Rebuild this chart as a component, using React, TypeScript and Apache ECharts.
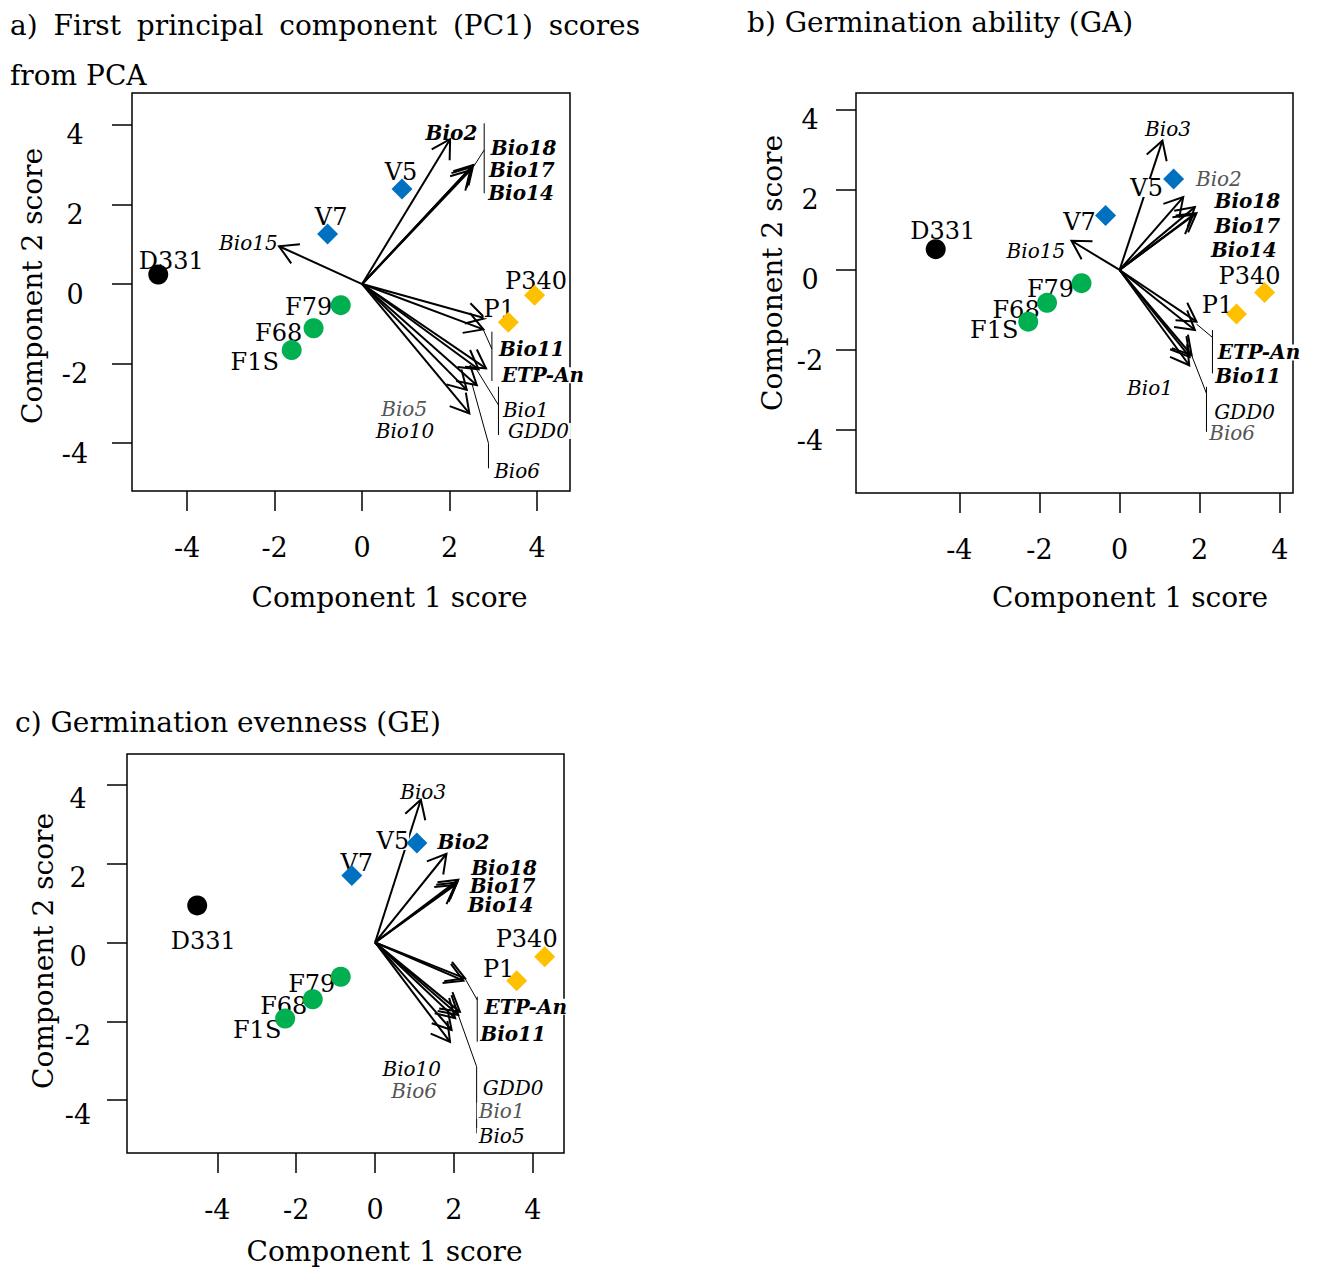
import React, { useEffect, useRef } from 'react';
import * as echarts from 'echarts';

const FONT = '"DejaVu Serif", "Liberation Serif", serif';

// ---- shared ----
const genotypes = ['D331', 'V7', 'V5', 'F79', 'F68', 'F1S', 'P340', 'P1'];
const genotypeGroup = ['D', 'V', 'V', 'F', 'F', 'F', 'P', 'P'];
const groupColor: Record<string, string> = { D: '#000000', V: '#0070C0', F: '#00B050', P: '#FFC000' };
const groupSymbol: Record<string, string> = { D: 'circle', V: 'diamond', F: 'circle', P: 'diamond' };
const xTicks = [-4, -2, 0, 2, 4];
const yTicks = [-4, -2, 0, 2, 4];

// ---- panel a ----
const scoreA1 = [-4.66, -0.79, 0.91, -0.49, -1.11, -1.61, 3.94, 3.34];
const scoreA2 = [0.24, 1.26, 2.39, -0.53, -1.11, -1.66, -0.28, -0.96];
const varsA = ['Bio15', 'Bio2', 'Bio18', 'Bio17', 'Bio14', 'Bio11', 'ETP-An', 'Bio1', 'GDD0', 'Bio6', 'Bio5', 'Bio10'];
const loadA1 = [-1.9, 2.01, 2.54, 2.5, 2.47, 2.81, 2.77, 2.83, 2.66, 2.62, 2.39, 2.45];
const loadA2 = [0.95, 3.64, 2.99, 2.94, 2.86, -0.86, -1.14, -2.12, -2.14, -2.54, -2.66, -3.25];
const labelA1 = [-2.6, 2.04, 3.69, 3.65, 3.63, 3.88, 4.13, 3.74, 4.03, 3.54, 0.96, 0.98];
const labelA2 = [1.02, 3.79, 3.41, 2.86, 2.3, -1.63, -2.29, -3.17, -3.69, -4.7, -3.14, -3.69];
const labelKindA = ['i', 'b', 'b', 'b', 'b', 'b', 'b', 'i', 'i', 'i', 'g', 'i'];
const leadersA = [
  [2.544, 2.947, 2.789, 3.367], [2.789, 4.038, 2.789, 2.279],
  [2.773, -1.156, 2.965, -1.633], [2.965, -1.198, 2.965, -2.437],
  [2.622, -2.161, 3.115, -3.04], [3.115, -2.58, 3.115, -3.794],
  [2.507, -2.495, 2.887, -4.003], [2.887, -4.003, 2.887, -4.631],
];
const ptOffA = [[13, -13], [3.5, -17], [-1, -17], [-32, 2], [-35, 5], [-37, 12], [1.5, -14], [-9, -13]];

// ---- panel b ----
const scoreB1 = [-4.59, -0.35, 1.35, -0.95, -1.81, -2.28, 3.62, 2.92];
const scoreB2 = [0.52, 1.36, 2.27, -0.33, -0.82, -1.29, -0.56, -1.1];
const varsB = ['Bio15', 'Bio3', 'Bio2', 'Bio18', 'Bio17', 'Bio14', 'ETP-An', 'Bio11', 'Bio1', 'GDD0', 'Bio6'];
const loadB1 = [-1.2, 1.07, 1.59, 1.88, 1.92, 1.84, 1.92, 1.88, 1.74, 1.8, 1.75];
const loadB2 = [0.73, 3.23, 1.82, 1.57, 1.42, 1.38, -1.29, -1.5, -2.38, -2.13, -2.17];
const labelB1 = [-2.09, 1.21, 2.48, 3.19, 3.19, 3.1, 3.48, 3.21, 0.76, 3.12, 2.81];
const labelB2 = [0.48, 3.52, 2.28, 1.73, 1.11, 0.5, -2.06, -2.65, -2.94, -3.54, -4.06];
const labelKindB = ['i', 'i', 'g', 'b', 'b', 'b', 'b', 'b', 'i', 'i', 'g'];
const leadersB = [
  [1.92, -1.35, 2.319, -1.683], [2.319, -1.5, 2.319, -2.583],
  [1.796, -2.125, 2.17, -3.083], [2.17, -2.918, 2.17, -4.043],
];
const ptOffB = [[7, -18], [-26, 6], [-27, 9], [-31, 6], [-31, 7], [-34, 8], [-15, -16], [-19, -9]];

// ---- panel c ----
const scoreC1 = [-4.51, -0.59, 1.06, -0.87, -1.58, -2.28, 4.3, 3.59];
const scoreC2 = [0.94, 1.7, 2.52, -0.87, -1.44, -1.93, -0.36, -0.97];
const varsC = ['Bio3', 'Bio2', 'Bio18', 'Bio17', 'Bio14', 'ETP-An', 'Bio11', 'GDD0', 'Bio1', 'Bio5', 'Bio10', 'Bio6'];
const loadC1 = [1.16, 1.81, 2.11, 2.08, 2.03, 2.28, 2.24, 2.15, 2.11, 2.03, 1.94, 1.9];
const loadC2 = [3.62, 2.25, 1.59, 1.52, 1.46, -0.91, -0.97, -1.76, -1.84, -1.92, -2.22, -2.52];
const labelC1 = [1.22, 2.24, 3.27, 3.23, 3.18, 3.82, 3.5, 3.5, 3.21, 3.21, 0.93, 0.99];
const labelC2 = [3.81, 2.54, 1.9, 1.42, 0.95, -1.63, -2.33, -3.7, -4.27, -4.91, -3.22, -3.76];
const labelKindC = ['i', 'b', 'b', 'b', 'b', 'b', 'b', 'i', 'g', 'i', 'i', 'g'];
const leadersC = [
  [2.278, -0.909, 2.59, -1.459], [2.59, -1.376, 2.59, -2.518],
  [2.109, -1.84, 2.575, -3.152], [2.575, -3.152, 2.575, -4.843],
];
const ptOffC = [[6, 36], [5, -12], [-24, -2], [-29, 7], [-29, 7], [-28, 11], [-18, -18], [-18, -12]];

// title words of panel a (a justified line from x=10 to x=640)
const titleAWords = ['a)', 'First', 'principal', 'component', '(PC1)', 'scores'];

const panels = [
  {
    grid: { left: 132, top: 93, width: 438, height: 398 },
    x: [-5.26, 4.75], y: [-5.2, 4.8], yMargin: 57, yOff: 10,
    s1: scoreA1, s2: scoreA2, vars: varsA, l1: loadA1, l2: loadA2, t1: labelA1, t2: labelA2,
    kinds: labelKindA, leaders: leadersA, ptOff: ptOffA,
  },
  {
    grid: { left: 856, top: 93, width: 437, height: 400 },
    x: [-6.58, 4.33], y: [-5.57, 4.42], yMargin: 46, yOff: 10,
    s1: scoreB1, s2: scoreB2, vars: varsB, l1: loadB1, l2: loadB2, t1: labelB1, t2: labelB2,
    kinds: labelKindB, leaders: leadersB, ptOff: ptOffB,
  },
  {
    grid: { left: 127, top: 754, width: 437, height: 399 },
    x: [-6.29, 4.79], y: [-5.34, 4.78], yMargin: 49, yOff: 14,
    s1: scoreC1, s2: scoreC2, vars: varsC, l1: loadC1, l2: loadC2, t1: labelC1, t2: labelC2,
    kinds: labelKindC, leaders: leadersC, ptOff: ptOffC,
  },
];

function justifiedWordX(words: string[], left: number, right: number, font: string): number[] {
  let widths = words.map((w) => w.length * 15);
  try {
    const ctx = document.createElement('canvas').getContext('2d');
    if (ctx) {
      ctx.font = font;
      widths = words.map((w) => ctx.measureText(w).width);
    }
  } catch (e) { /* fall back */ }
  const total = widths.reduce((s, w) => s + w, 0);
  const gap = (right - left - total) / (words.length - 1);
  const xs: number[] = [];
  let x = left;
  widths.forEach((w) => { xs.push(x); x += w + gap; });
  return xs;
}

function buildOption() {
  const grids: any[] = [];
  const xAxes: any[] = [];
  const yAxes: any[] = [];
  const series: any[] = [];

  panels.forEach((p, i) => {
    grids.push({ ...p.grid, show: true, borderColor: '#000', borderWidth: 1.5, backgroundColor: 'transparent' });
    xAxes.push({
      gridIndex: i, type: 'value', min: p.x[0], max: p.x[1], position: 'bottom',
      axisLine: { show: false, onZero: false }, splitLine: { show: false },
      axisTick: { show: true, length: 20, lineStyle: { color: '#000', width: 1.5 }, customValues: xTicks },
      axisLabel: { customValues: xTicks, color: '#000', fontSize: 27, fontFamily: FONT, margin: 43 },
    });
    yAxes.push({
      gridIndex: i, type: 'value', min: p.y[0], max: p.y[1], position: 'left',
      axisLine: { show: false, onZero: false }, splitLine: { show: false },
      axisTick: { show: true, length: 20, lineStyle: { color: '#000', width: 1.5 }, customValues: yTicks },
      axisLabel: {
        customValues: yTicks, color: '#000', fontSize: 27, fontFamily: FONT,
        margin: p.yMargin, align: 'center', verticalAlign: 'top', lineHeight: p.yOff * 2,
      },
    });

    // leader lines
    series.push({
      type: 'custom', xAxisIndex: i, yAxisIndex: i, z: 1, clip: false, silent: true,
      data: p.leaders, encode: { x: [0, 2], y: [1, 3] },
      renderItem: (params: any, api: any) => {
        const a = api.coord([api.value(0), api.value(1)]);
        const b = api.coord([api.value(2), api.value(3)]);
        return { type: 'line', shape: { x1: a[0], y1: a[1], x2: b[0], y2: b[1] }, style: { stroke: '#000', lineWidth: 1 } };
      },
    });

    // variable labels
    series.push({
      type: 'custom', xAxisIndex: i, yAxisIndex: i, z: 2, clip: false, silent: true,
      data: p.t1.map((v, k) => [v, p.t2[k]]), encode: { x: 0, y: 1 },
      renderItem: (params: any, api: any) => {
        const c = api.coord([api.value(0), api.value(1)]);
        const kind = p.kinds[params.dataIndex];
        return {
          type: 'text', x: c[0], y: c[1],
          style: {
            text: p.vars[params.dataIndex], fontSize: 20, lineHeight: 16, fontFamily: FONT, fontStyle: 'italic',
            fontWeight: kind === 'b' ? 'bold' : 'normal', fill: kind === 'g' ? '#555' : '#000',
            align: 'center', verticalAlign: 'middle', backgroundColor: '#fff', padding: [0, 2],
          },
        };
      },
    });

    // arrows
    series.push({
      type: 'custom', xAxisIndex: i, yAxisIndex: i, z: 3, clip: false, silent: true,
      data: p.l1.map((v, k) => [v, p.l2[k]]), encode: { x: 0, y: 1 },
      renderItem: (params: any, api: any) => {
        const o = api.coord([0, 0]);
        const t = api.coord([api.value(0), api.value(1)]);
        const ang = Math.atan2(t[1] - o[1], t[0] - o[0]);
        const L = 21, A = Math.PI / 6;
        const p1 = [t[0] - L * Math.cos(ang - A), t[1] - L * Math.sin(ang - A)];
        const p2 = [t[0] - L * Math.cos(ang + A), t[1] - L * Math.sin(ang + A)];
        return {
          type: 'group', children: [
            { type: 'line', shape: { x1: o[0], y1: o[1], x2: t[0], y2: t[1] }, style: { stroke: '#000', lineWidth: 2 } },
            { type: 'polyline', shape: { points: [p1, t, p2] }, style: { stroke: '#000', lineWidth: 2, fill: null } },
          ],
        };
      },
    });

    // point labels
    series.push({
      type: 'custom', xAxisIndex: i, yAxisIndex: i, z: 4, clip: false, silent: true,
      data: p.s1.map((v, k) => [v, p.s2[k]]), encode: { x: 0, y: 1 },
      renderItem: (params: any, api: any) => {
        const c = api.coord([api.value(0), api.value(1)]);
        const off = p.ptOff[params.dataIndex];
        return {
          type: 'text', x: c[0] + off[0], y: c[1] + off[1],
          style: {
            text: genotypes[params.dataIndex], fontSize: 24, lineHeight: 18, fontFamily: FONT, fill: '#000',
            align: 'center', verticalAlign: 'middle', backgroundColor: '#fff',
          },
        };
      },
    });

    // points
    series.push({
      type: 'scatter', xAxisIndex: i, yAxisIndex: i, z: 5, silent: true,
      data: p.s1.map((v, k) => {
        const g = genotypeGroup[k];
        return {
          value: [v, p.s2[k]], symbol: groupSymbol[g], symbolSize: g === 'V' || g === 'P' ? 21 : 20,
          itemStyle: { color: groupColor[g], opacity: 1 },
        };
      }),
    });
  });

  const t = (text: string, x: number, y: number, align = 'left', rotation = 0) => ({
    type: 'text', x, y, rotation, silent: true,
    style: { text, fontSize: 28, fontFamily: FONT, fill: '#000', align, verticalAlign: 'middle' },
  });

  const titleX = justifiedWordX(titleAWords, 10, 640, '28px "DejaVu Serif"');

  const graphic = [
    ...titleAWords.map((w, k) => t(w, titleX[k], 25, 'left')),
    t('from PCA', 10, 75),
    t('b) Germination ability (GA)', 747, 22),
    t('c) Germination evenness (GE)', 15, 722),
    t('Component 1 score', 389.5, 597, 'center'),
    t('Component 1 score', 1130, 597, 'center'),
    t('Component 1 score', 384.5, 1251, 'center'),
    t('Component 2 score', 32, 286, 'center', Math.PI / 2),
    t('Component 2 score', 772, 273, 'center', Math.PI / 2),
    t('Component 2 score', 43, 951, 'center', Math.PI / 2),
  ];

  return {
    animation: false,
    backgroundColor: '#fff',
    grid: grids,
    xAxis: xAxes,
    yAxis: yAxes,
    series,
    graphic,
  };
}

export default function App() {
  const ref = useRef<HTMLDivElement>(null);
  useEffect(() => {
    if (!ref.current) return;
    const chart = echarts.init(ref.current, null, { renderer: 'svg' });
    chart.setOption(buildOption() as any);
    return () => chart.dispose();
  }, []);
  return (
    <div
      ref={ref}
      style={{ position: 'absolute', left: 0, top: 0, width: 1319, height: 1270, background: '#fff' }}
    />
  );
}
